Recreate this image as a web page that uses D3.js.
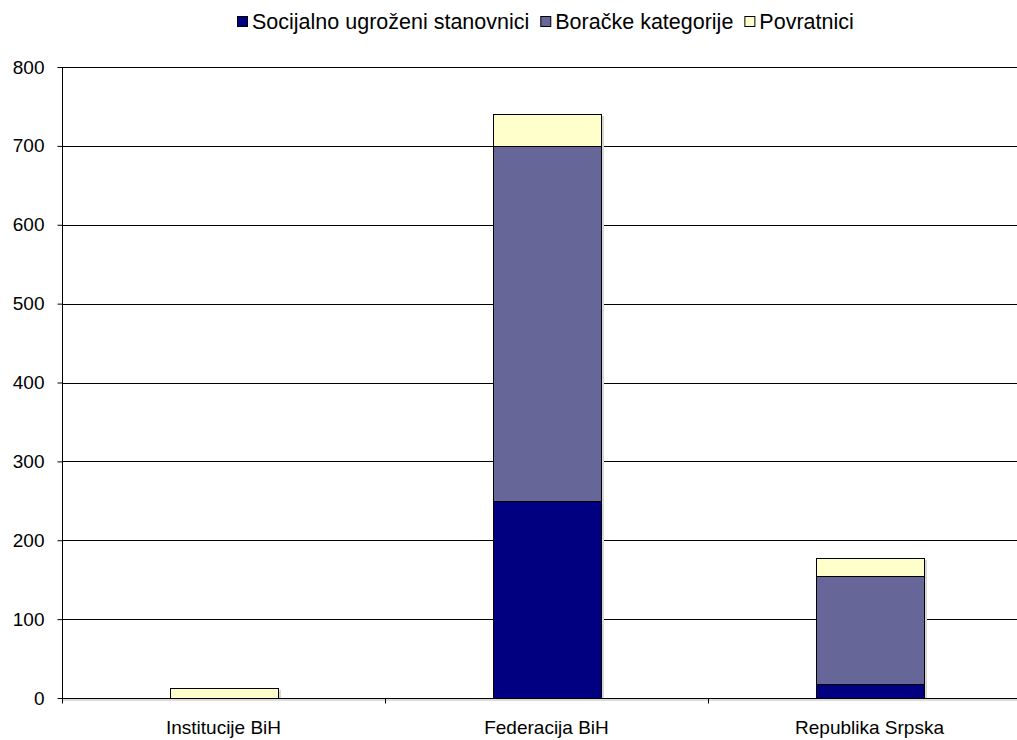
<!DOCTYPE html>
<html><head><meta charset="utf-8">
<script src="https://cdn.jsdelivr.net/npm/d3@7"></script>
<style>body{margin:0;background:#fff}svg{display:block;font-family:"Liberation Sans",Arial,sans-serif}</style>
</head><body><svg id="c" width="1017" height="740"></svg>
<script>
const categories = ["Institucije BiH", "Federacija BiH", "Republika Srpska"];
const seriesNames = ["Socijalno ugroženi stanovnici", "Boračke kategorije", "Povratnici"];
const socijalno = [0, 250, 18];
const boracke = [0, 450, 137];
const povratnici = [13, 41, 23];
const colors = ["#000080", "#666699", "#FFFFCC"];
const yTicks = [0, 100, 200, 300, 400, 500, 600, 700, 800];

const svg = d3.select("#c");
const x = d3.scaleBand().domain(categories).range([62, 1031]).paddingInner(0.666).paddingOuter(0.333);
const y = d3.scaleLinear().domain([0, 800]).range([698, 67]);

const rows = categories.map((c, i) => ({cat: c, s0: socijalno[i], s1: boracke[i], s2: povratnici[i]}));
const stack = d3.stack().keys(["s0", "s1", "s2"])(rows);

// gridlines
svg.append("g").selectAll("line").data(yTicks.filter(d => d > 0)).join("line")
  .attr("x1", 62).attr("x2", 1031).attr("y1", d => Math.round(y(d)) + 0.5).attr("y2", d => Math.round(y(d)) + 0.5)
  .attr("stroke", "#000").attr("stroke-width", 1);

// bar shadows
svg.append("g").selectAll("rect").data(rows).join("rect")
  .attr("x", d => Math.round(x(d.cat)) + Math.round(x.bandwidth()) + 1)
  .attr("width", 2)
  .attr("y", d => Math.round(y(d.s0 + d.s1 + d.s2)) + 2)
  .attr("height", d => Math.round(y(0)) - Math.round(y(d.s0 + d.s1 + d.s2)) - 2)
  .attr("fill", "#d8d8d8");

// bars
stack.forEach((s, k) => {
  svg.append("g").selectAll("rect").data(s.filter(d => d[1] - d[0] > 0)).join("rect")
    .attr("x", d => Math.round(x(d.data.cat)) + 0.5)
    .attr("width", Math.round(x.bandwidth()))
    .attr("y", d => Math.round(y(d[1])) + 0.5)
    .attr("height", d => Math.round(y(d[0])) - Math.round(y(d[1])))
    .attr("fill", colors[k]).attr("stroke", "#000").attr("stroke-width", 1);
});

// y axis
const ya = svg.append("g").attr("transform", "translate(62.5,0)")
  .call(d3.axisLeft(y).tickValues(yTicks).tickSize(5).tickPadding(13).tickFormat(d3.format("d")));
ya.selectAll("text").attr("font-size", 19).attr("fill", "#000").attr("font-family", "Liberation Sans, Arial, sans-serif");
ya.selectAll("line,path").attr("stroke", "#000");
ya.select(".domain").attr("d", "M0," + y(800) + "V" + (y(0) + 0.5));

// x axis
const xa = svg.append("g").attr("transform", "translate(0," + (y(0) + 0.5) + ")");
xa.append("line").attr("x1", 62).attr("x2", 1031).attr("y1", 1.5).attr("y2", 1.5).attr("stroke", "#bbb");
xa.append("line").attr("x1", 62).attr("x2", 1031).attr("stroke", "#000");
const bw = x.step();
xa.selectAll(".tk").data(d3.range(0, categories.length + 1)).join("line")
  .attr("x1", i => Math.round(62 + i * bw) + 0.5).attr("x2", i => Math.round(62 + i * bw) + 0.5)
  .attr("y1", 0).attr("y2", 5).attr("stroke", "#000");
xa.selectAll("text").data(categories).join("text")
  .attr("x", d => x(d) + x.bandwidth() / 2).attr("y", 35)
  .attr("text-anchor", "middle").attr("font-size", 19).attr("fill", "#000").text(d => d);

// legend
const lg = svg.append("g");
let cx = 0;
const gap = 11;
seriesNames.forEach((n, i) => {
  const g = lg.append("g").attr("transform", "translate(" + cx + ",0)");
  g.append("rect").attr("x", 0.5).attr("y", 16.5).attr("width", 10).attr("height", 10)
    .attr("fill", colors[i]).attr("stroke", "#000");
  const t = g.append("text").attr("x", 15).attr("y", 29).attr("font-size", 21.5).attr("fill", "#000").text(n);
  cx += 15 + t.node().getComputedTextLength() + gap;
});
const total = cx - gap;
lg.attr("transform", "translate(" + Math.round(545 - total / 2) + ",0)");
</script></body></html>
